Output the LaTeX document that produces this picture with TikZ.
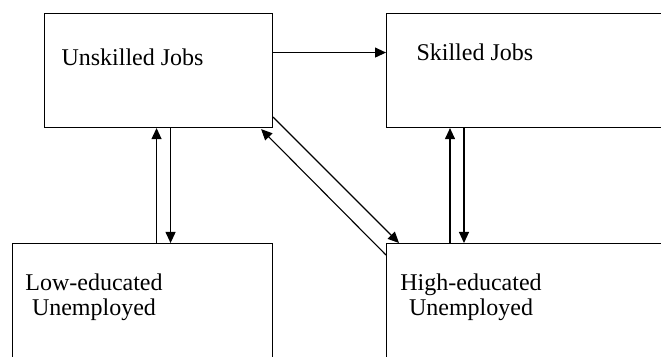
\documentclass[tikz,border=0pt]{standalone}
\usepackage{fontspec}
\setmainfont{Liberation Serif}
\usetikzlibrary{arrows.meta}
\begin{document}
\begin{tikzpicture}[x=1pt,y=1pt,line width=1.1pt,
	box/.style={draw,rectangle,inner sep=0pt,anchor=north west},
	lbl/.style={inner sep=0pt,font=\fontsize{24}{25}\selectfont},
	>={Triangle[length=11pt,width=10pt]}]
	\clip (0,0) rectangle (661,356);
	\node[box,minimum width=228pt,minimum height=114pt](unsk) at (44,343){};
	\node[box,minimum width=300pt,minimum height=114pt](skil) at (386,343){};
	\node[box,minimum width=260pt,minimum height=130pt](lowu) at (12,113){};
	\node[box,minimum width=300pt,minimum height=130pt](highu) at (386,113){};
	\node[lbl,anchor=base west](unskt) at ([shift={(17,-53)}]unsk.north west){Unskilled Jobs};
	\node[lbl,anchor=base west](skilt) at ([shift={(30,-48)}]skil.north west){Skilled Jobs};
	\node[lbl,align=center,anchor=north](lowt) at ([shift={(82,-30.6)}]lowu.north west){Low-educated\\Unemployed};
	\node[lbl,align=center,anchor=north](hight) at ([shift={(85,-30.6)}]highu.north west){High-educated\\Unemployed};
	\draw[->] ([yshift=18pt]unsk.east) -- ([yshift=18pt]skil.west);
	\draw[->] ([xshift=-2pt]unsk.south |- lowu.north) -- ([xshift=-2pt]unsk.south);
	\draw[->] ([xshift=12pt]unsk.south) -- ([xshift=12pt]unsk.south |- lowu.north);
	\draw[->] ([xshift=64pt]highu.north west) -- ([xshift=64pt]skil.south west);
	\draw[->] ([xshift=78pt]skil.south west) -- ([xshift=78pt]highu.north west);
	\draw[->] ([yshift=11pt]unsk.south east) -- ([xshift=13pt]highu.north west);
	\draw[->] ([yshift=-12pt]highu.north west) -- ([shift={(-12pt,-1pt)}]unsk.south east);
\end{tikzpicture}
\end{document}
